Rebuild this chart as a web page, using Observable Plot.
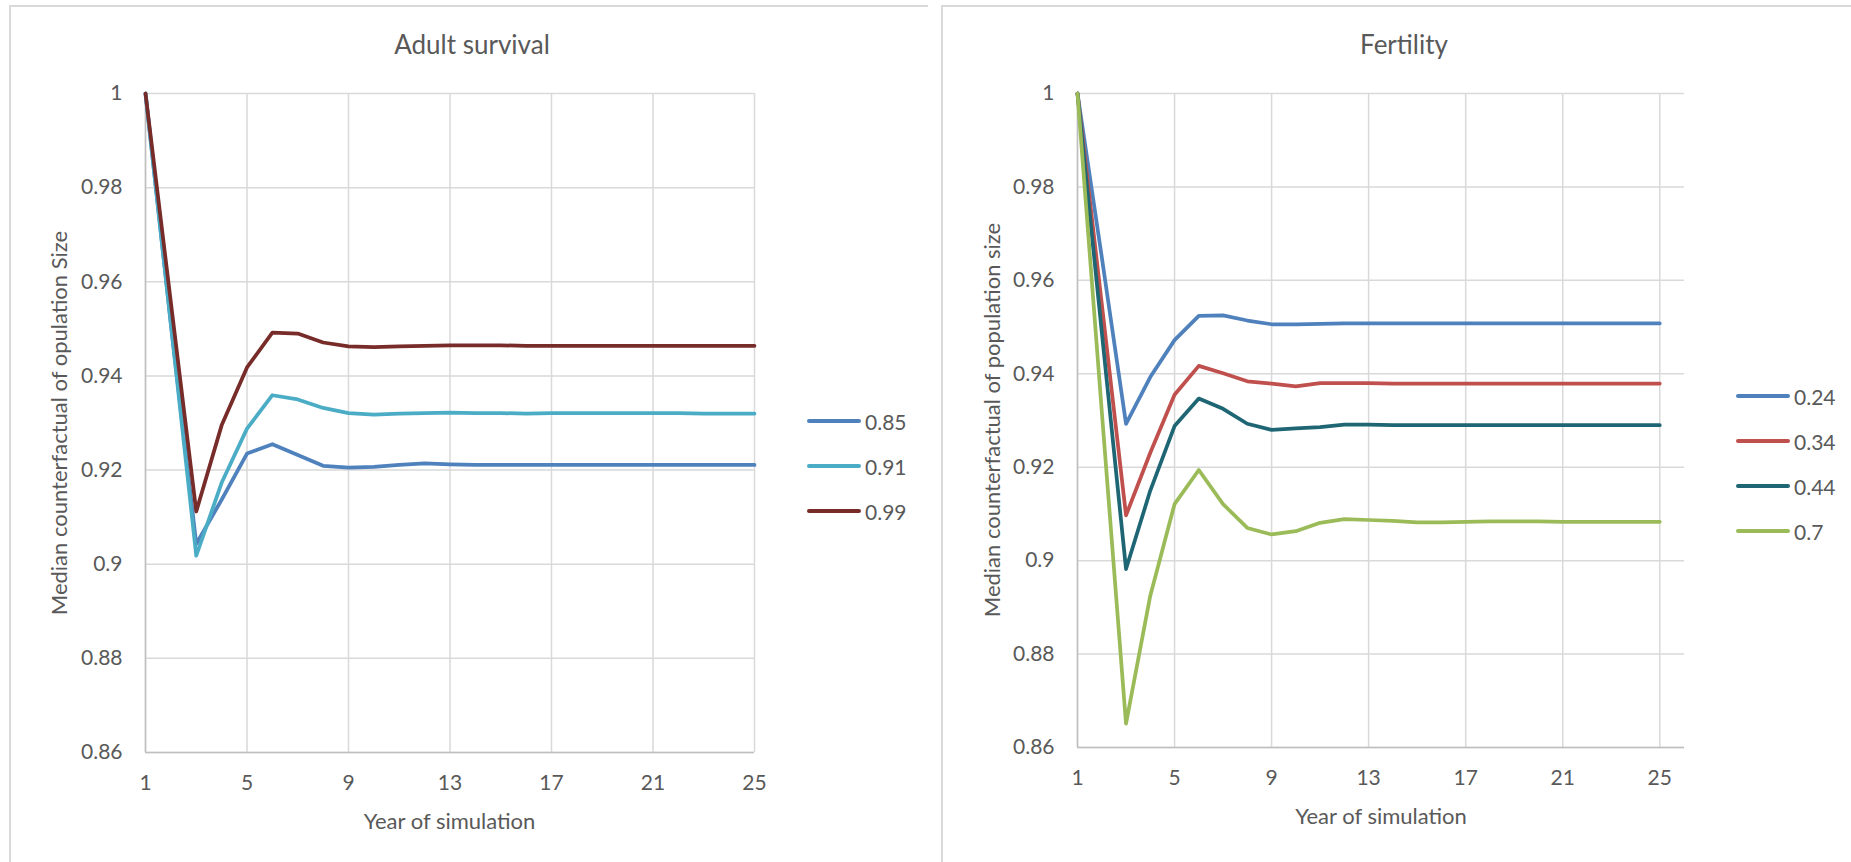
<!DOCTYPE html>
<html>
<head>
<meta charset="utf-8">
<script src="https://cdn.jsdelivr.net/npm/d3@7"></script>
<script src="https://cdn.jsdelivr.net/npm/@observablehq/plot@0.6"></script>
<style>
  html, body { margin: 0; padding: 0; background: #ffffff; }
  body { width: 1851px; height: 862px; position: relative; overflow: hidden; font-family: Lato, "Open Sans", sans-serif; color: #595959; }
  .panel { position: absolute; top: 5px; height: 900px; border-top: 2px solid #d9d9d9; border-left: 2px solid #d9d9d9; box-sizing: border-box; }
  .chart { position: absolute; top: 0; }
  .title { position: absolute; font-size: 26px; transform: translate(-50%, -50%); white-space: nowrap; line-height: 1; }
  .xlabel { position: absolute; font-size: 22px; transform: translate(-50%, -50%); white-space: nowrap; line-height: 1; }
  .ylabel { position: absolute; font-size: 22px; transform: translate(-50%, -50%) rotate(-90deg); white-space: nowrap; line-height: 1; }
  .legend { position: absolute; }
  .legend .item { position: absolute; left: 0; height: 0; white-space: nowrap; }
  .legend .swatch { position: absolute; left: 0; top: -2px; width: 54px; height: 4px; border-radius: 2px; }
  .legend .text { position: absolute; left: 58px; top: 0; transform: translateY(-50%); font-size: 21px; line-height: 1; }
</style>
</head>
<body>
<div class="panel" style="left:9px; width:919px;"></div>
<div class="panel" style="left:941px; width:910px; border-right:none;"></div>
<div id="left" class="chart" style="left:0px;"></div>
<div id="right" class="chart" style="left:940px;"></div>
<script>
// Simulation years and axis ticks
const years = [1, 2, 3, 4, 5, 6, 7, 8, 9, 10, 11, 12, 13, 14, 15, 16, 17, 18, 19, 20, 21, 22, 23, 24, 25];
const xTicks = [1, 5, 9, 13, 17, 21, 25];
const yTicks = [0.86, 0.88, 0.9, 0.92, 0.94, 0.96, 0.98, 1];

// Adult survival scenarios: median counterfactual of population size
const survivalLabels = ["0.85", "0.91", "0.99"];
const survivalColors = ["#4f81bd", "#4bacc6", "#772c2a"];
const survival085 = [1, 0.951, 0.9043, 0.9137, 0.9235, 0.9255, 0.9232, 0.9209, 0.9205, 0.9207, 0.9211, 0.9214, 0.9212, 0.9211, 0.9211, 0.9211, 0.9211, 0.9211, 0.9211, 0.9211, 0.9211, 0.9211, 0.9211, 0.9211, 0.9211];
const survival091 = [1, 0.951, 0.9018, 0.9173, 0.9288, 0.9359, 0.935, 0.9332, 0.9321, 0.9318, 0.932, 0.9321, 0.9322, 0.9321, 0.9321, 0.932, 0.9321, 0.9321, 0.9321, 0.9321, 0.9321, 0.9321, 0.932, 0.932, 0.932];
const survival099 = [1, 0.9556, 0.9112, 0.9295, 0.9418, 0.9492, 0.949, 0.9471, 0.9463, 0.9461, 0.9463, 0.9464, 0.9465, 0.9465, 0.9465, 0.9464, 0.9464, 0.9464, 0.9464, 0.9464, 0.9464, 0.9464, 0.9464, 0.9464, 0.9464];

// Fertility scenarios
const fertilityLabels = ["0.24", "0.34", "0.44", "0.7"];
const fertilityColors = ["#4f81bd", "#c0504d", "#1f6675", "#9bbb59"];
const fertility024 = [1, 0.965, 0.9293, 0.9393, 0.9472, 0.9524, 0.9525, 0.9514, 0.9506, 0.9506, 0.9507, 0.9508, 0.9508, 0.9508, 0.9508, 0.9508, 0.9508, 0.9508, 0.9508, 0.9508, 0.9508, 0.9508, 0.9508, 0.9508, 0.9508];
const fertility034 = [1, 0.955, 0.9097, 0.9231, 0.9355, 0.9417, 0.9401, 0.9384, 0.9379, 0.9373, 0.938, 0.938, 0.938, 0.9379, 0.9379, 0.9379, 0.9379, 0.9379, 0.9379, 0.9379, 0.9379, 0.9379, 0.9379, 0.9379, 0.9379];
const fertility044 = [1, 0.949, 0.8982, 0.915, 0.9288, 0.9347, 0.9325, 0.9293, 0.928, 0.9283, 0.9286, 0.9291, 0.9291, 0.929, 0.929, 0.929, 0.929, 0.929, 0.929, 0.929, 0.929, 0.929, 0.929, 0.929, 0.929];
const fertility07 = [1, 0.932, 0.8651, 0.8925, 0.9121, 0.9194, 0.9121, 0.907, 0.9056, 0.9063, 0.9081, 0.9089, 0.9087, 0.9085, 0.9082, 0.9082, 0.9083, 0.9084, 0.9084, 0.9084, 0.9083, 0.9083, 0.9083, 0.9083, 0.9083];

function tidy(labels, seriesList) {
  return labels.flatMap((label, i) => years.map((year, j) => ({ year, value: seriesList[i][j], series: label })));
}

const fmt = d => String(+d.toFixed(2));

function chart({ data, labels, colors, width, xMax, margins }) {
  return Plot.plot({
    width,
    height: 862,
    ...margins,
    style: { fontFamily: "Lato, 'Open Sans', sans-serif", fontSize: "21px", color: "#595959", background: "transparent", overflow: "visible" },
    x: { domain: [1, xMax], label: null },
    y: { domain: [0.86, 1], label: null },
    color: { domain: labels, range: colors },
    marks: [
      Plot.gridY(yTicks, { stroke: "#d9d9d9", strokeOpacity: 1, strokeWidth: 1.5 }),
      Plot.gridX(xTicks, { stroke: "#d9d9d9", strokeOpacity: 1, strokeWidth: 1.5 }),
      Plot.ruleX([1], { stroke: "#bfbfbf", strokeWidth: 1.5 }),
      Plot.ruleY([0.86], { stroke: "#bfbfbf", strokeWidth: 1.5 }),
      Plot.axisX(xTicks, { tickSize: 0, tickPadding: 23, label: null, fill: "#595959" }),
      Plot.axisY(yTicks, { tickSize: 0, tickPadding: 23, tickFormat: fmt, label: null, fill: "#595959" }),
      Plot.line(data, { x: "year", y: "value", z: "series", stroke: "series", strokeWidth: 3.75, strokeLinejoin: "round", strokeLinecap: "round" })
    ]
  });
}

document.getElementById("left").append(chart({
  data: tidy(survivalLabels, [survival085, survival091, survival099]),
  labels: survivalLabels, colors: survivalColors, width: 930, xMax: 25,
  margins: { marginLeft: 145, marginRight: 176, marginTop: 93, marginBottom: 110 }
}));

document.getElementById("right").append(chart({
  data: tidy(fertilityLabels, [fertility024, fertility034, fertility044, fertility07]),
  labels: fertilityLabels, colors: fertilityColors, width: 911, xMax: 26.02,
  margins: { marginLeft: 137, marginRight: 167, marginTop: 93, marginBottom: 115 }
}));

// Titles, axis titles and legends
function addText(cls, text, x, y) {
  const el = document.createElement("div");
  el.className = cls;
  el.textContent = text;
  el.style.left = x + "px";
  el.style.top = y + "px";
  document.body.append(el);
}
addText("title", "Adult survival", 472, 44);
addText("title", "Fertility", 1404, 44);
addText("xlabel", "Year of simulation", 449.5, 821);
addText("xlabel", "Year of simulation", 1381, 816);
addText("ylabel", "Median counterfactual of opulation Size", 59, 423);
addText("ylabel", "Median counterfactual of population size", 992, 420);

function addLegend(labels, colors, x, y0, step) {
  const box = document.createElement("div");
  box.className = "legend";
  box.style.left = x + "px";
  box.style.top = y0 + "px";
  labels.forEach((label, i) => {
    const item = document.createElement("div");
    item.className = "item";
    item.style.top = (i * step) + "px";
    const sw = document.createElement("div");
    sw.className = "swatch";
    sw.style.background = colors[i];
    const tx = document.createElement("div");
    tx.className = "text";
    tx.textContent = label;
    item.append(sw, tx);
    box.append(item);
  });
  document.body.append(box);
}
addLegend(survivalLabels, survivalColors, 807, 421, 45);
addLegend(fertilityLabels, fertilityColors, 1736, 396, 45);
</script>
</body>
</html>
